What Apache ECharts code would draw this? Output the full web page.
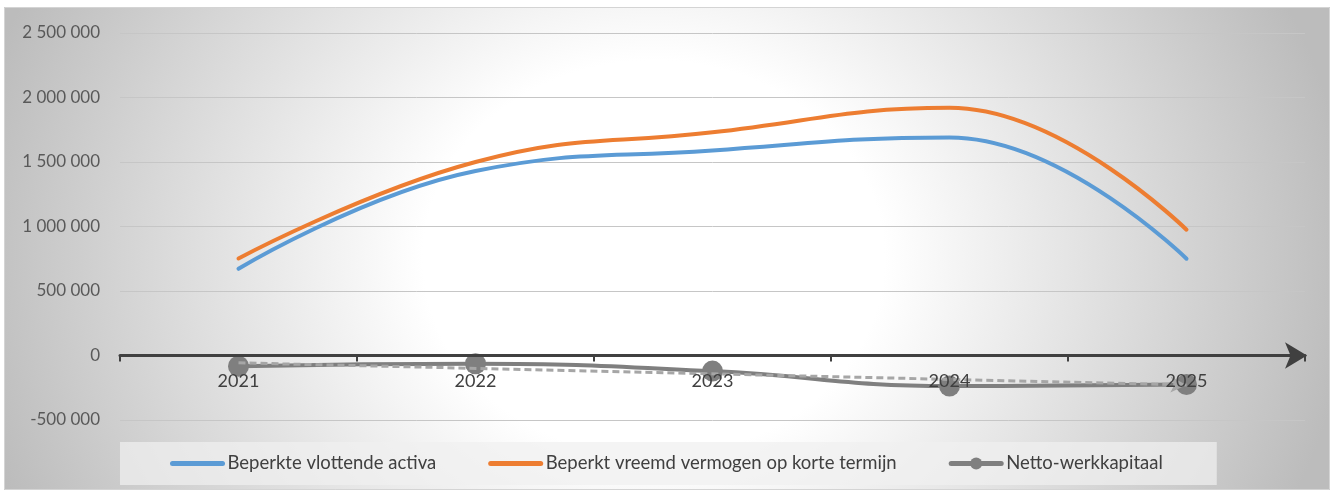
<!DOCTYPE html>
<html>
<head>
<meta charset="utf-8">
<script src="https://cdn.jsdelivr.net/npm/echarts@6/dist/echarts.min.js"></script>
<style>
    html, body { margin: 0; padding: 0; background: #fff; }
    #chart { width: 1333px; height: 493px; }
</style>
</head>
<body>
<div id="chart"></div>
<script>
    // jaren
    var years = ['2021', '2022', '2023', '2024', '2025'];
    // waarden
    var vlottendeActiva = [672000, 1430000, 1590000, 1690000, 750000];
    var vreemdVermogenKT = [752000, 1500000, 1730000, 1920000, 975000];
    var nettoWerkkapitaal = [-83000, -64000, -121000, -237000, -225000];
    // lineaire trendlijn netto-werkkapitaal (begin- en eindpunt)
    var trendline = [-57000, -228000];
    // y-as
    var yTicks = [-500000, 0, 500000, 1000000, 1500000, 2000000, 2500000];

    var labelFont = 'Lato, "Liberation Sans", sans-serif';

    function fmt(v) {
        var s = String(Math.abs(v)).replace(/\B(?=(\d{3})+(?!\d))/g, ' ');
        return (v < 0 ? '-' : '') + s;
    }

    var myChart = echarts.init(document.getElementById('chart'));

    var gridTop = 33, gridBottom = 73, chartH = 493;
    // x-as ligt op de nullijn: afstand van onderkant grid tot 0
    var plotH = chartH - gridTop - gridBottom;
    var zeroShift = plotH * (0 - yTicks[0]) / (yTicks[yTicks.length - 1] - yTicks[0]);

    var option = {
        animation: false,
        textStyle: { fontFamily: labelFont },
        graphic: [
            {
                type: 'rect',
                z: -100,
                silent: true,
                x: 4,
                y: 7,
                scaleX: 1.167,
                shape: { x: 0, y: 0, width: 1326 / 1.167, height: 483 },
                style: {
                    fill: {
                        type: 'radial',
                        x: 0.49,
                        y: 0.52,
                        r: 1.24,
                        colorStops: [
                            { offset: 0, color: '#ffffff' },
                            { offset: 0.33, color: '#ffffff' },
                            { offset: 1, color: '#bcbcbc' }
                        ]
                    }
                }
            },
            {
                type: 'rect',
                z: -99,
                silent: true,
                shape: { x: 4.5, y: 7.5, width: 1325, height: 482 },
                style: { fill: 'none', stroke: '#d4d4d4', lineWidth: 1 }
            }
        ],
        grid: {
            left: 120,
            right: 28,
            top: gridTop,
            bottom: gridBottom
        },
        legend: {
            data: [
                { name: 'Beperkte vlottende activa', itemStyle: { opacity: 0 }, lineStyle: { width: 5, cap: 'round' } },
                { name: 'Beperkt vreemd vermogen op korte termijn', itemStyle: { opacity: 0 }, lineStyle: { width: 5, cap: 'round' } },
                { name: 'Netto-werkkapitaal', lineStyle: { width: 5, cap: 'round' } }
            ],
            left: 120,
            bottom: 8,
            padding: [12, 54, 12, 50],
            itemGap: 52,
            itemWidth: 50,
            itemHeight: 15,
            backgroundColor: 'rgba(240,240,240,0.72)',
            textStyle: {
                color: '#404040',
                fontSize: 18.5,
                fontFamily: labelFont
            }
        },
        xAxis: {
            type: 'category',
            data: years,
            boundaryGap: true,
            offset: -zeroShift,
            z: 5,
            axisLine: {
                onZero: false,
                symbol: ['none', 'arrow'],
                symbolSize: [20, 22],
                symbolOffset: [0, 2],
                lineStyle: { color: '#404040', width: 3 }
            },
            axisTick: {
                show: true,
                length: 6,
                lineStyle: { color: '#404040', width: 2 }
            },
            axisLabel: {
                color: '#404040',
                fontSize: 18,
                margin: 17
            },
            splitLine: { show: false }
        },
        yAxis: {
            type: 'value',
            min: yTicks[0],
            max: yTicks[yTicks.length - 1],
            interval: 500000,
            axisLine: { show: false },
            axisTick: { show: false },
            axisLabel: {
                color: '#595959',
                fontSize: 17,
                margin: 20,
                formatter: fmt
            },
            splitLine: {
                lineStyle: { color: '#c6c6c6', width: 1 }
            }
        },
        series: [
            {
                name: 'Beperkte vlottende activa',
                type: 'line',
                data: vlottendeActiva,
                smooth: 0.45,
                symbol: 'none',
                color: '#5b9bd5',
                lineStyle: { width: 4, color: '#5b9bd5', cap: 'round' },
                z: 3
            },
            {
                name: 'Beperkt vreemd vermogen op korte termijn',
                type: 'line',
                data: vreemdVermogenKT,
                smooth: 0.45,
                symbol: 'none',
                color: '#ed7d31',
                lineStyle: { width: 4, color: '#ed7d31', cap: 'round' },
                z: 3
            },
            {
                name: 'Netto-werkkapitaal',
                type: 'line',
                data: nettoWerkkapitaal,
                smooth: 0.45,
                symbol: 'circle',
                symbolSize: 21,
                color: '#7f7f7f',
                itemStyle: { color: '#7f7f7f' },
                lineStyle: { width: 4, color: '#7f7f7f' },
                z: 3,
                markLine: {
                    silent: true,
                    symbol: ['none', 'arrow'],
                    symbolSize: [12, 16],
                    label: { show: false },
                    lineStyle: { type: [7, 4], color: '#a6a6a6', width: 3 },
                    data: [
                        [
                            { coord: [0, trendline[0]] },
                            { coord: [years.length - 1, trendline[1]] }
                        ]
                    ]
                }
            }
        ]
    };

    myChart.setOption(option);
</script>
</body>
</html>
